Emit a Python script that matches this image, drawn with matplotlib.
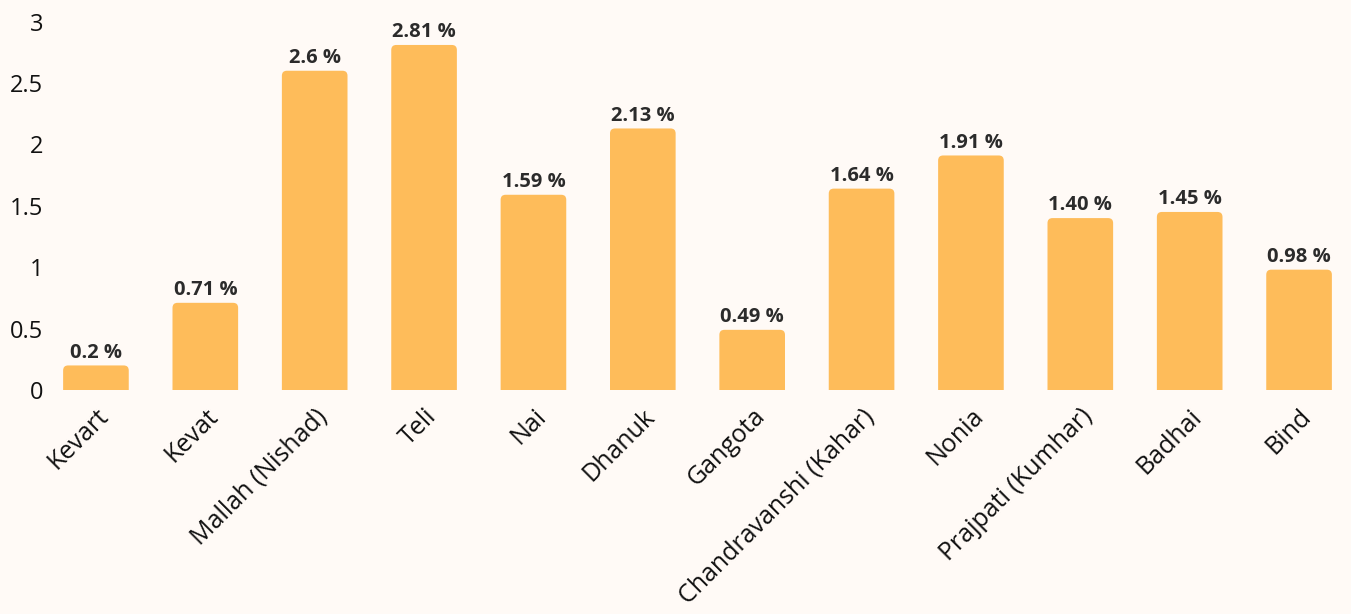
import numpy as np
import matplotlib
matplotlib.use("Agg")
import matplotlib.pyplot as plt
from matplotlib.patches import FancyBboxPatch

castes = ["Kevart", "Kevat", "Mallah (Nishad)", "Teli", "Nai", "Dhanuk", "Gangota",
          "Chandravanshi (Kahar)", "Nonia", "Prajpati (Kumhar)", "Badhai", "Bind"]
shares = [0.2, 0.71, 2.6, 2.81, 1.59, 2.13, 0.49, 1.64, 1.91, 1.40, 1.45, 0.98]
share_labels = ["0.2 %", "0.71 %", "2.6 %", "2.81 %", "1.59 %", "2.13 %", "0.49 %",
                "1.64 %", "1.91 %", "1.40 %", "1.45 %", "0.98 %"]
yticks = [0, 0.5, 1, 1.5, 2, 2.5, 3]
ytick_labels = ["0", "0.5", "1", "1.5", "2", "2.5", "3"]

bg = "#FFFAF6"
bar_color = "#FEBC5A"

plt.rcParams['font.family'] = ['Open Sans', 'DejaVu Sans']

W, H = 1351, 614
fig = plt.figure(figsize=(W / 100, H / 100), dpi=100, facecolor=bg)
ax = fig.add_axes([50 / W, (H - 390) / H, (1345 - 50) / W, 375 / H])
ax.set_facecolor(bg)

x = np.arange(len(castes))
ax.set_xlim(-0.42, 11.42)
ax.set_ylim(0, 3.054)

# rounded tops: boxes start below zero so the bottom corners get clipped
width = 0.6
px_x = ax.get_position().width * W / (11.42 + 0.42)
px_y = ax.get_position().height * H / 3.054
radius = 5 / px_x
for xi, v in zip(x, shares):
    p = FancyBboxPatch((xi - width / 2, -0.2), width, v + 0.2,
                       boxstyle=f"round,pad=0,rounding_size={radius}",
                       mutation_aspect=px_x / px_y,
                       facecolor=bar_color, edgecolor="none")
    ax.add_patch(p)
    ax.annotate(share_labels[xi], (xi, v), xytext=(0, 2), textcoords="offset points",
                ha="center", va="bottom", fontsize=14.5, fontweight="bold", color="#2b2b2b")

ax.set_yticks(yticks)
ax.set_yticklabels(ytick_labels, fontsize=17, color="#111111")
ax.set_xticks(x)
ax.set_xticklabels(castes, fontsize=18, color="#111111", rotation=45,
                   ha="right", va="top", rotation_mode="anchor")
ax.tick_params(length=0, axis="y", pad=5)
ax.tick_params(length=0, axis="x", pad=10)
for s in ax.spines.values():
    s.set_visible(False)

fig.savefig("out.png", dpi=100, facecolor=bg)
